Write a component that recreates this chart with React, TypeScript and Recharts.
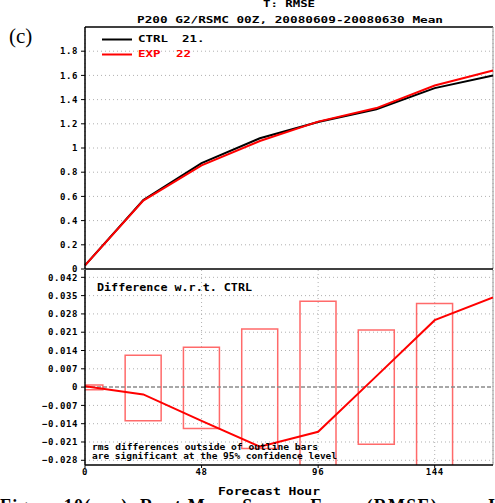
import {
  Bar,
  CartesianGrid,
  ComposedChart,
  Line,
  LineChart,
  ReferenceLine,
  XAxis,
  YAxis,
} from "recharts";

// forecast hours (x) and the two rmse curves
const HOURS = [0, 24, 48, 72, 96, 120, 144, 168];
const CTRL_RMSE = [0.03, 0.57, 0.875, 1.08, 1.215, 1.32, 1.495, 1.6];
const EXP_RMSE = [0.03, 0.565, 0.857, 1.058, 1.218, 1.33, 1.517, 1.64];

// EXP - CTRL and the 95% confidence boxes
const DIFF = [0.0003, -0.0028, -0.0129, -0.0228, -0.0171, 0.0042, 0.0256, 0.0343];
const CI_LOW = [-0.001, -0.0129, -0.0158, -0.0235, -0.036, -0.0219, -0.036, null];
const CI_HIGH = [0.0008, 0.0122, 0.0152, 0.0222, 0.0328, 0.0218, 0.032, null];

const X_TICKS = [0, 48, 96, 144];
const RMSE_TICKS = [0, 0.2, 0.4, 0.6, 0.8, 1, 1.2, 1.4, 1.6, 1.8];
const DIFF_TICKS = [-0.028, -0.021, -0.014, -0.007, 0, 0.007, 0.014, 0.021, 0.028, 0.035, 0.042];

const LEGEND = [
  { name: "CTRL", count: "21.", color: "#000000" },
  { name: "EXP", count: "22", color: "#ff0000" },
];

const MONO = "'DejaVu Sans Mono', monospace";
const RED = "#ff0000";
const BOX = "#ff6a6a";
const GRID = "#b0b0b0";

const topData = HOURS.map((h, i) => ({ hour: h, ctrl: CTRL_RMSE[i], exp: EXP_RMSE[i] }));
const diffData = HOURS.map((h, i) => ({
  hour: h,
  diff: DIFF[i],
  ci: CI_LOW[i] == null ? undefined : [CI_LOW[i], CI_HIGH[i]],
}));

const tickStyle = { fontSize: 9, fontFamily: MONO, fontWeight: 700, fill: "#000", letterSpacing: 0.6 };

function fmtRmse(v: number) {
  return String(Math.round(v * 10) / 10);
}
function fmtDiff(v: number) {
  if (Math.abs(v) < 1e-9) return "0";
  return (v < 0 ? "\u2212" : "") + Math.abs(v).toFixed(3);
}

function Label({ x, y, w, size = 9, fill = "#000", children }: any) {
  return (
    <text
      x={x}
      y={y}
      fontFamily={MONO}
      fontWeight={700}
      fontSize={size}
      fill={fill}
      textLength={w}
      lengthAdjust="spacingAndGlyphs"
    >
      {children}
    </text>
  );
}

export default function App() {
  return (
    <div style={{ position: "absolute", left: 0, top: 0, width: 495, height: 503, overflow: "hidden", background: "#fff" }}>
      <div style={{ position: "absolute", left: 0, top: 270 }}>
        <ComposedChart width={495} height={215} data={diffData} margin={{ top: 0, right: 2, bottom: 0, left: 0 }}>
          <CartesianGrid stroke={GRID} strokeDasharray="1 3" horizontalValues={DIFF_TICKS.filter((t) => t !== 0)} />
          <XAxis
            dataKey="hour"
            type="number"
            domain={[0, 168]}
            allowDataOverflow
            ticks={X_TICKS}
            tick={tickStyle}
            tickSize={3}
            tickMargin={1}
            tickLine={{ stroke: "#000" }}
            axisLine={{ stroke: "#000", strokeWidth: 1.5 }}
            height={20}
          />
          <YAxis
            type="number"
            domain={[-0.0298, 0.0448]}
            allowDataOverflow
            ticks={DIFF_TICKS}
            interval={0}
            tickFormatter={fmtDiff}
            tick={tickStyle}
            tickSize={4}
            tickMargin={3}
            tickLine={{ stroke: "#000" }}
            axisLine={{ stroke: "#000", strokeWidth: 1.5 }}
            width={85}
          />
          <ReferenceLine y={0} stroke="#8a8a8a" strokeWidth={1.5} strokeDasharray="4 2" />
          <ReferenceLine x={168} stroke="#999" />
          <Bar dataKey="ci" barSize={36} fill="none" stroke={BOX} strokeWidth={1.5} isAnimationActive={false} />
          <Line dataKey="diff" stroke={RED} strokeWidth={2} dot={false} isAnimationActive={false} />
        </ComposedChart>
      </div>

      <div style={{ position: "absolute", left: 0, top: 0 }}>
        <LineChart width={495} height={281} data={topData} margin={{ top: 27, right: 2, bottom: 11, left: 0 }}>
          <CartesianGrid stroke={GRID} strokeDasharray="1 3" horizontalValues={RMSE_TICKS.slice(1)} />
          <XAxis
            dataKey="hour"
            type="number"
            domain={[0, 168]}
            ticks={X_TICKS}
            tick={false}
            tickLine={false}
            height={1}
            axisLine={{ stroke: "#000", strokeWidth: 1.5 }}
          />
          <YAxis
            type="number"
            domain={[0, 2]}
            ticks={RMSE_TICKS}
            interval={0}
            tickFormatter={fmtRmse}
            tick={tickStyle}
            tickSize={4}
            tickMargin={3}
            tickLine={{ stroke: "#000" }}
            axisLine={{ stroke: "#000", strokeWidth: 1.5 }}
            width={85}
          />
          <ReferenceLine y={2} stroke="#000" strokeWidth={1.5} />
          <ReferenceLine x={168} stroke="#999" />
          <Line dataKey="ctrl" stroke="#000" strokeWidth={2} dot={false} isAnimationActive={false} />
          <Line dataKey="exp" stroke={RED} strokeWidth={2} dot={false} isAnimationActive={false} />
        </LineChart>
      </div>

      <svg width={495} height={503} style={{ position: "absolute", left: 0, top: 0, pointerEvents: "none" }}>
        <Label x={263} y={7} w={52}>T: RMSE</Label>
        <Label x={137} y={23} w={306}>P200 G2/RSMC 00Z, 20080609-20080630 Mean</Label>
        <text x={9} y={43} fontFamily="'Liberation Serif', serif" fontSize={21}>(c)</text>

        {LEGEND.map((l, i) => (
          <g key={l.name}>
            <line x1={102} x2={132} y1={39.5 + i * 15} y2={39.5 + i * 15} stroke={l.color} strokeWidth={2} />
            <Label x={138} y={42 + i * 15} w={l.name.length * 7.5} fill={l.color}>{l.name}</Label>
            <Label x={i === 0 ? 182 : 176} y={42 + i * 15} w={l.count.length * 7.5} fill={l.color}>{l.count}</Label>
          </g>
        ))}

        <Label x={97} y={291} w={155} size={10}>Difference w.r.t. CTRL</Label>
        <Label x={92} y={450} w={226} size={8}>rms differences outside of outline bars</Label>
        <Label x={92} y={459} w={245} size={8}>are significant at the 95% confidence level</Label>
        <Label x={218} y={494.5} w={102} size={10}>Forecast Hour</Label>

        <text
          x={0}
          y={512}
          fontFamily="'Liberation Serif', serif"
          fontWeight={700}
          fontSize={18}
          textLength={495}
          lengthAdjust="spacing"
        >
          Figure 10(a–c). Root Mean Square Error (RMSE) over I
        </text>
      </svg>
    </div>
  );
}
